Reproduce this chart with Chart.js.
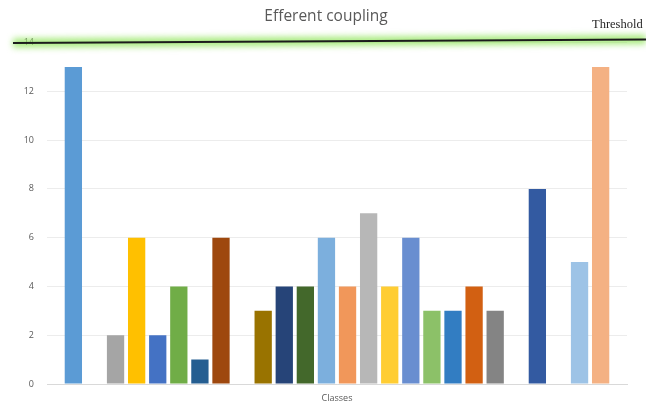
<!DOCTYPE html>
<html>
<head>
<meta charset="utf-8">
<title>Efferent coupling</title>
<script src="https://cdn.jsdelivr.net/npm/chart.js@4.4.1/dist/chart.umd.min.js"></script>
<style>
  html, body { margin: 0; padding: 0; background: #ffffff; }
  #wrap { width: 646px; height: 403px; position: relative; }
</style>
</head>
<body>
<div id="wrap"><canvas id="chart" width="646" height="403"></canvas></div>
<script>
// Efferent coupling per class; null marks an empty slot between groups
const coupling = [13, null, 2, 6, 2, 4, 1, 6, null, 3, 4, 4, 6, 4, 7, 4, 6, 3, 3, 4, 3, null, 8, null, 5, 13];

// One colour per slot (null slots carry no bar)
const barColors = [
  '#5B9BD5', null, '#A5A5A5', '#FFC000', '#4472C4', '#70AD47', '#255E91', '#9E480E', null,
  '#997300', '#264478', '#43682B', '#7CAFDD', '#F1975A', '#B7B7B7', '#FFCD33', '#698ED0',
  '#8CC168', '#327DC2', '#D26012', '#848484', null, '#335AA1', null, '#9DC3E6', '#F4B183'
];

const yTicks = [0, 2, 4, 6, 8, 10, 12, 14];
const chartTitle = 'Efferent coupling';
const thresholdValue = 14;
const thresholdLabel = 'Threshold';

const points = coupling.map((v, i) => ({ x: i, y: v }));

// Chart heading, centred on the page
const headingPlugin = {
  id: 'heading',
  afterDraw(chart) {
    const ctx = chart.ctx;
    ctx.save();
    ctx.fillStyle = '#595959';
    ctx.font = '15.5px "Open Sans", sans-serif';
    ctx.textAlign = 'center';
    ctx.textBaseline = 'middle';
    ctx.fillText(chartTitle, 326, 17);
    ctx.restore();
  }
};

// Glowing threshold rule drawn across the full width, with its caption
const thresholdPlugin = {
  id: 'threshold',
  afterDraw(chart) {
    const ctx = chart.ctx;
    const y = chart.scales.y.getPixelForValue(thresholdValue);
    const x0 = 13, x1 = chart.width;
    const tilt = 3.4;
    ctx.save();
    // soft green halo
    ctx.filter = 'blur(3px)';
    ctx.strokeStyle = 'rgba(150, 230, 100, 0.85)';
    ctx.lineWidth = 9;
    ctx.beginPath();
    ctx.moveTo(x0, y + 0.3);
    ctx.lineTo(x1, y + 0.3 - tilt);
    ctx.stroke();
    ctx.filter = 'none';
    // dark core line
    ctx.strokeStyle = '#1c1c1c';
    ctx.lineWidth = 2;
    ctx.beginPath();
    ctx.moveTo(x0, y + 0.3);
    ctx.lineTo(x1, y + 0.3 - tilt);
    ctx.stroke();
    // caption
    ctx.fillStyle = '#262626';
    ctx.font = '12.5px "Liberation Serif", serif';
    ctx.textAlign = 'left';
    ctx.textBaseline = 'middle';
    ctx.fillText(thresholdLabel, 592, 25);
    ctx.restore();
  }
};

new Chart(document.getElementById('chart'), {
  type: 'bar',
  data: {
    datasets: [{
      label: 'Efferent coupling',
      data: points,
      backgroundColor: barColors,
      borderWidth: 0,
      barPercentage: 0.82,
      categoryPercentage: 1.0
    }]
  },
  options: {
    responsive: false,
    devicePixelRatio: 1,
    animation: false,
    layout: { padding: { left: 0, right: 19, top: 42.6, bottom: 0 } },
    plugins: {
      legend: { display: false },
      tooltip: { enabled: false },
      title: { display: false }
    },
    scales: {
      x: {
        type: 'linear',
        min: -1.25,
        max: 26.25,
        offset: false,
        grid: { display: false, drawTicks: false },
        border: { display: true, color: '#d9d9d9' },
        ticks: { display: false },
        title: {
          display: true,
          text: 'Classes',
          color: '#595959',
          font: { family: '"Open Sans", sans-serif', size: 9, lineHeight: 1 },
          padding: { top: 10, bottom: 0 }
        }
      },
      y: {
        min: 0,
        max: 14,
        afterFit(scale) { scale.width = 47; },
        afterBuildTicks(scale) { scale.ticks = yTicks.map(v => ({ value: v })); },
        grid: { color: '#ececec', drawTicks: false },
        border: { display: false },
        ticks: {
          padding: 13,
          color: '#595959',
          font: { family: '"Open Sans", sans-serif', size: 9 }
        }
      }
    }
  },
  plugins: [headingPlugin, thresholdPlugin]
});
</script>
</body>
</html>
